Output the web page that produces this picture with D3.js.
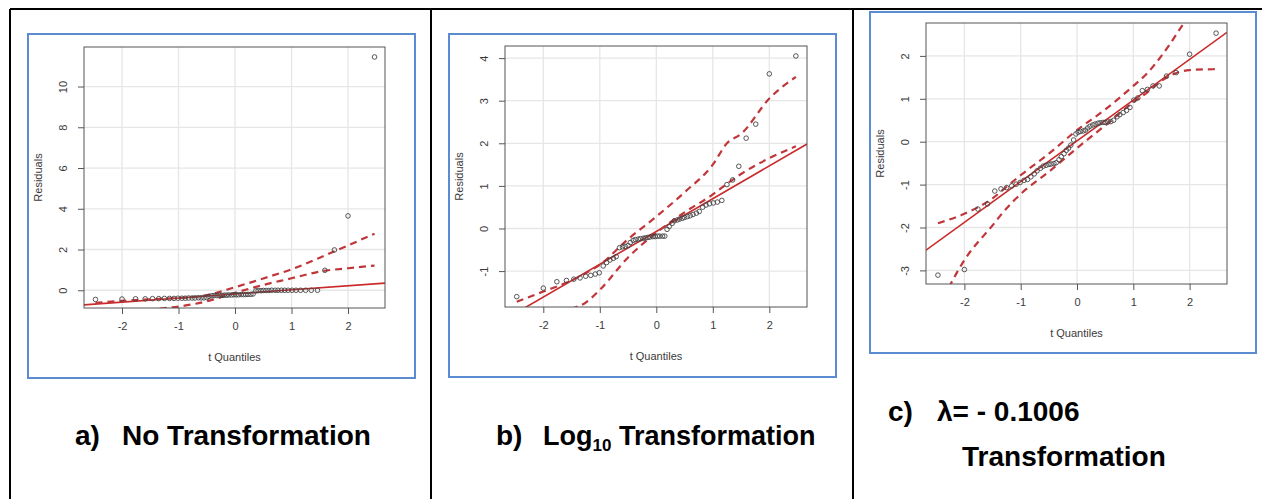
<!DOCTYPE html>
<html>
<head>
<meta charset="utf-8">
<script src="https://cdn.jsdelivr.net/npm/d3@7"></script>
<style>
  body { margin: 0; background: #fff; }
  svg { display: block; }
</style>
</head>
<body>
<div id="chart"></div>
<script>
// t quantiles (shared by the three panels, n = 60)
const tQuantiles = [
  -2.47, -2.00, -1.76, -1.59, -1.46, -1.35, -1.25, -1.16, -1.08, -1.01,
  -0.94, -0.88, -0.82, -0.76, -0.71, -0.65, -0.60, -0.55, -0.50, -0.46,
  -0.41, -0.37, -0.32, -0.28, -0.23, -0.19, -0.15, -0.11, -0.06, -0.02,
   0.02,  0.06,  0.11,  0.15,  0.19,  0.23,  0.28,  0.32,  0.37,  0.41,
   0.46,  0.50,  0.55,  0.60,  0.65,  0.71,  0.76,  0.82,  0.88,  0.94,
   1.01,  1.08,  1.16,  1.25,  1.35,  1.46,  1.59,  1.76,  2.00,  2.47
];

// sorted residuals, one list per panel
const residualsA = [
  -0.45, -0.43, -0.42, -0.42, -0.41, -0.41, -0.40, -0.40, -0.40, -0.39,
  -0.39, -0.39, -0.38, -0.38, -0.38, -0.37, -0.37, -0.37, -0.36, -0.30,
  -0.27, -0.26, -0.26, -0.25, -0.25, -0.24, -0.24, -0.23, -0.23, -0.22,
  -0.22, -0.22, -0.21, -0.21, -0.21, -0.20, -0.20, -0.18, -0.03, -0.02,
  -0.02, -0.01, -0.01, -0.01,  0.00,  0.00,  0.00,  0.00,  0.00,  0.00,
   0.00,  0.00,  0.00,  0.00,  0.00,  0.00,  0.98,  1.98,  3.65, 11.45
];
const residualsB = [
  -1.60, -1.40, -1.25, -1.22, -1.19, -1.16, -1.12, -1.10, -1.07, -1.04,
  -0.88, -0.80, -0.74, -0.70, -0.66, -0.45, -0.43, -0.42, -0.40, -0.33,
  -0.28, -0.26, -0.25, -0.24, -0.23, -0.22, -0.21, -0.20, -0.19, -0.19,
  -0.18, -0.18, -0.18, -0.18, -0.02,  0.05,  0.12,  0.18,  0.20,  0.22,
   0.24,  0.26,  0.28,  0.30,  0.33,  0.36,  0.40,  0.50,  0.55,  0.58,
   0.60,  0.62,  0.66,  1.03,  1.14,  1.46,  2.12,  2.45,  3.63,  4.05
];
const residualsC = [
  -3.11, -2.98, -1.57, -1.45, -1.15, -1.10, -1.07, -1.03, -0.99, -0.95,
  -0.90, -0.88, -0.82, -0.75, -0.68, -0.62, -0.57, -0.55, -0.53, -0.52,
  -0.51, -0.49, -0.42, -0.35, -0.28, -0.20, -0.15, -0.08,  0.04,  0.18,
   0.22,  0.24,  0.25,  0.27,  0.32,  0.36,  0.39,  0.41,  0.43,  0.44,
   0.45,  0.45,  0.46,  0.47,  0.50,  0.58,  0.63,  0.68,  0.73,  0.80,
   0.97,  1.02,  1.19,  1.22,  1.30,  1.30,  1.53,  1.61,  2.04,  2.53
];

// fitted line [intercept, slope]
const fitA = [-0.18, 0.20];
const fitB = [-0.07, 0.77];
const fitC = [0.02, 0.95];

// confidence envelope
const envX   = [-2.47, -2, -1.5, -1.25, -1, -0.5, 0, 0.5, 1, 1.25, 1.5, 2, 2.47];
const upperA = [-0.62, -0.52, -0.44, -0.41, -0.38, -0.24, 0.15, 0.58, 1.03, 1.30, 1.60, 2.20, 2.78];
const lowerA = [-2.40, -1.60, -0.95, -0.88, -0.80, -0.54, -0.12, 0.26, 0.59, 0.76, 0.92, 1.08, 1.21];
const upperB = [-1.72, -1.48, -1.22, -1.05, -0.85, -0.25, 0.28, 0.85, 1.50, 2.00, 2.22, 3.05, 3.56];
const lowerB = [-3.40, -2.60, -1.90, -1.74, -1.44, -0.68, -0.10, 0.38, 0.80, 1.05, 1.28, 1.65, 1.93];
const upperC = [-1.90, -1.68, -1.32, -1.05, -0.78, -0.28, 0.27, 0.75, 1.30, 1.60, 2.00, 2.95, 3.70];
const lowerC = [-3.90, -2.76, -1.95, -1.55, -1.22, -0.70, -0.15, 0.38, 0.92, 1.15, 1.42, 1.67, 1.69];

// ticks
const xTicks  = [-2, -1, 0, 1, 2];
const yTicksA = [0, 2, 4, 6, 8, 10];
const yTicksB = [-1, 0, 1, 2, 3, 4];
const yTicksC = [-3, -2, -1, 0, 1, 2];

// axis extents
const xDomainA = [-2.673, 2.655], yDomainA = [-0.87, 11.94];
const xDomainB = [-2.678, 2.667], yDomainB = [-1.843, 4.284];
const xDomainC = [-2.682, 2.664], yDomainC = [-3.317, 2.767];

const width = 1262, height = 499;
const red = "#c92a2a";

const svg = d3.select("#chart").append("svg")
  .attr("width", width)
  .attr("height", height);

// table rules
const rules = svg.append("g").attr("stroke", "#000").attr("stroke-width", 2);
rules.append("line").attr("x1", 10).attr("x2", width).attr("y1", 9).attr("y2", 9);
[10, 431, 853].forEach(x => {
  rules.append("line").attr("x1", x).attr("x2", x).attr("y1", 9).attr("y2", height);
});

const panels = [
  { id: "a", box: [28, 34, 415, 378], plot: [84, 47, 385, 308],
    xd: xDomainA, yd: yDomainA, yt: yTicksA, res: residualsA, fit: fitA, up: upperA, lo: lowerA },
  { id: "b", box: [449, 34, 836, 377], plot: [505, 46, 807, 307],
    xd: xDomainB, yd: yDomainB, yt: yTicksB, res: residualsB, fit: fitB, up: upperB, lo: lowerB },
  { id: "c", box: [870, 12, 1256, 353], plot: [926, 23, 1227, 284],
    xd: xDomainC, yd: yDomainC, yt: yTicksC, res: residualsC, fit: fitC, up: upperC, lo: lowerC }
];

panels.forEach(p => {
  const [bx0, by0, bx1, by1] = p.box;
  const [l, t, r, b] = p.plot;

  svg.append("rect")
    .attr("x", bx0).attr("y", by0)
    .attr("width", bx1 - bx0).attr("height", by1 - by0)
    .attr("fill", "none").attr("stroke", "#5b8bd0").attr("stroke-width", 2);

  const x = d3.scaleLinear().domain(p.xd).range([l, r]);
  const y = d3.scaleLinear().domain(p.yd).range([b, t]);

  const g = svg.append("g");

  // grid
  g.selectAll(".gx").data(xTicks).enter().append("line")
    .attr("x1", d => x(d)).attr("x2", d => x(d)).attr("y1", t).attr("y2", b)
    .attr("stroke", "#e6e6e6").attr("stroke-width", 1.3);
  g.selectAll(".gy").data(p.yt).enter().append("line")
    .attr("y1", d => y(d)).attr("y2", d => y(d)).attr("x1", l).attr("x2", r)
    .attr("stroke", "#e6e6e6").attr("stroke-width", 1.3);

  // axes
  const xAxis = g.append("g").attr("transform", `translate(0,${b})`)
    .call(d3.axisBottom(x).tickValues(xTicks).tickSize(6).tickPadding(8).tickFormat(d3.format("d")));
  const yAxis = g.append("g").attr("transform", `translate(${l},0)`)
    .call(d3.axisLeft(y).tickValues(p.yt).tickSize(6).tickFormat(d3.format("d")));
  [xAxis, yAxis].forEach(ax => {
    ax.select(".domain").remove();
    ax.selectAll("line").attr("stroke", "#555");
    ax.selectAll("text").attr("fill", "#3a3a3a")
      .style("font-family", "'Liberation Sans', Arial, sans-serif").style("font-size", "11px");
  });
  xAxis.selectAll("text").text(d => d < 0 ? "-" + Math.abs(d) : d);
  yAxis.selectAll("text")
    .text(d => d < 0 ? "-" + Math.abs(d) : d)
    .attr("x", null).attr("dy", null)
    .attr("text-anchor", "middle")
    .attr("transform", "translate(-21,0) rotate(-90)")
    .attr("dy", "0.35em");

  // axis titles
  g.append("text")
    .attr("x", (l + r) / 2).attr("y", b + 53)
    .attr("text-anchor", "middle").attr("fill", "#3a3a3a")
    .style("font-family", "'Liberation Sans', Arial, sans-serif").style("font-size", "11px")
    .text("t Quantiles");
  g.append("text")
    .attr("transform", `translate(${l - 46},${(t + b) / 2}) rotate(-90)`)
    .attr("dy", "0.35em")
    .attr("text-anchor", "middle").attr("fill", "#3a3a3a")
    .style("font-family", "'Liberation Sans', Arial, sans-serif").style("font-size", "11px")
    .text("Residuals");

  // clip
  const clipId = "clip-" + p.id;
  svg.append("clipPath").attr("id", clipId)
    .append("rect").attr("x", l).attr("y", t).attr("width", r - l).attr("height", b - t);

  const inner = g.append("g").attr("clip-path", `url(#${clipId})`);

  // fit line
  inner.append("line")
    .attr("x1", x(p.xd[0])).attr("y1", y(p.fit[0] + p.fit[1] * p.xd[0]))
    .attr("x2", x(p.xd[1])).attr("y2", y(p.fit[0] + p.fit[1] * p.xd[1]))
    .attr("stroke", red).attr("stroke-width", 1.6);

  // envelope
  const env = d3.line().x(d => x(d[0])).y(d => y(d[1])).curve(d3.curveMonotoneX);
  [p.up, p.lo].forEach(arr => {
    inner.append("path")
      .datum(envX.map((v, i) => [v, arr[i]]))
      .attr("d", env)
      .attr("fill", "none").attr("stroke", "#c0363a")
      .attr("stroke-width", 2.2).attr("stroke-dasharray", "7,5");
  });

  // points
  inner.selectAll("circle").data(tQuantiles.map((v, i) => [v, p.res[i]])).enter().append("circle")
    .attr("cx", d => x(d[0])).attr("cy", d => y(d[1])).attr("r", 2.3)
    .attr("fill", "none").attr("stroke", "#444").attr("stroke-width", 0.9);

  // frame
  g.append("rect").attr("x", l).attr("y", t).attr("width", r - l).attr("height", b - t)
    .attr("fill", "none").attr("stroke", "#555").attr("stroke-width", 1);
});

// captions
const capFont = "'Liberation Sans', Arial, sans-serif";
function caption(x0, y0, size) {
  return svg.append("text").attr("x", x0).attr("y", y0)
    .style("font-family", capFont).style("font-weight", "bold").style("font-size", (size || 28) + "px")
    .attr("fill", "#000");
}
caption(75, 445).text("a)");
caption(122, 445).text("No Transformation");
caption(496, 445).text("b)");
const capB = caption(543, 445, 27);
capB.append("tspan").text("Log");
capB.append("tspan").attr("dy", 6).style("font-size", "17px").text("10");
capB.append("tspan").attr("dy", -6).text(" Transformation");
caption(888, 421).text("c)");
caption(937, 421).text("λ= - 0.1006");
caption(962, 466).text("Transformation");
</script>
</body>
</html>
